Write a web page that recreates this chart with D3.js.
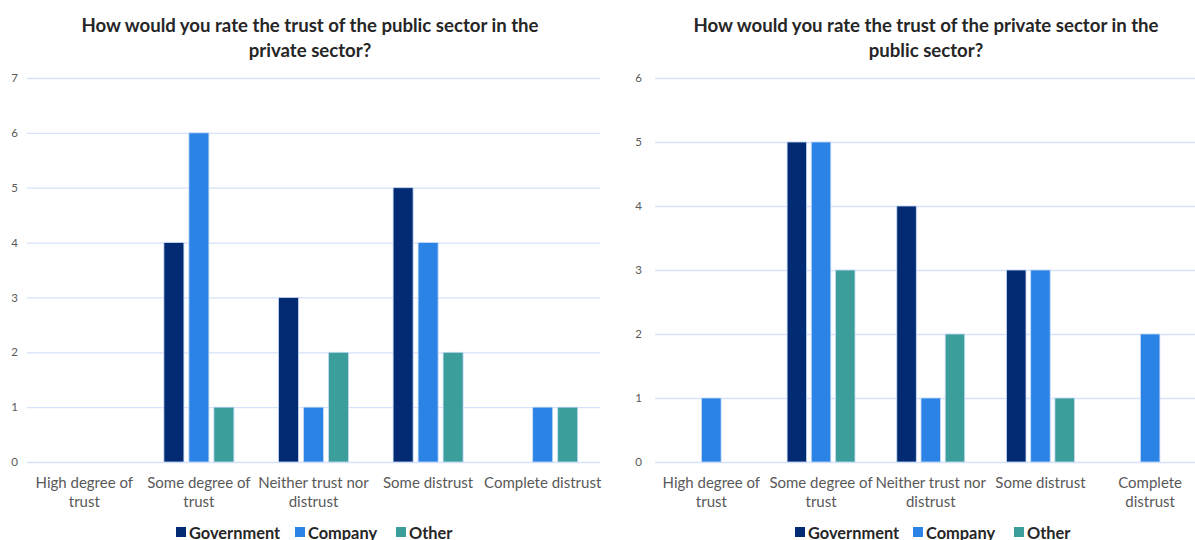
<!DOCTYPE html>
<html>
<head>
<meta charset="utf-8">
<script src="https://cdn.jsdelivr.net/npm/d3@7"></script>
<style>
  html, body { margin: 0; padding: 0; background: #fff; }
  svg { display: block; font-family: Lato, "Open Sans", sans-serif; }
</style>
</head>
<body>
<svg id="chart" width="1195" height="540"></svg>
<script>
// Response categories shared by both charts
const categories = [
  "High degree of trust",
  "Some degree of trust",
  "Neither trust nor distrust",
  "Some distrust",
  "Complete distrust"
];
const categoryLinesLeft = [
  ["High degree of", "trust"],
  ["Some degree of", "trust"],
  ["Neither trust nor", "distrust"],
  ["Some distrust"],
  ["Complete distrust"]
];
const categoryLinesRight = [
  ["High degree of", "trust"],
  ["Some degree of", "trust"],
  ["Neither trust nor", "distrust"],
  ["Some distrust"],
  ["Complete", "distrust"]
];
const seriesNames = ["Government", "Company", "Other"];
const seriesColors = ["#022b74", "#2b83e6", "#3c9e9b"];

// Trust of the public sector in the private sector
const publicGov     = [0, 4, 3, 5, 0];
const publicCompany = [0, 6, 1, 4, 1];
const publicOther   = [0, 1, 2, 2, 1];
const publicTicks   = [0, 1, 2, 3, 4, 5, 6, 7];

// Trust of the private sector in the public sector
const privateGov     = [0, 5, 4, 3, 0];
const privateCompany = [1, 5, 1, 3, 2];
const privateOther   = [0, 3, 2, 1, 0];
const privateTicks   = [0, 1, 2, 3, 4, 5, 6];

const svg = d3.select("#chart");

function drawPanel(opts) {
  const g = svg.append("g");
  const x = d3.scaleBand().domain(categories).range([opts.x0, opts.x1]);
  const inner = d3.scaleBand().domain(seriesNames)
    .range([-opts.step * 1.5, opts.step * 1.5]);
  const y = d3.scaleLinear().domain([0, opts.yMax]).range([462, 78]);

  // title
  const title = g.append("text")
    .attr("x", opts.titleX).attr("text-anchor", "middle")
    .attr("font-weight", 700).attr("font-size", 18.6).attr("fill", "#262626");
  opts.title.forEach((t, i) => {
    title.append("tspan").attr("x", opts.titleX).attr("y", 32 + i * 25).text(t);
  });

  // grid lines and y tick labels
  const yAxis = d3.axisLeft(y).tickValues(opts.ticks).tickFormat(d3.format("d"))
    .tickSize(-(opts.gridEnd - opts.gridStart)).tickPadding(opts.gridStart - opts.labelX - 4);
  const ya = g.append("g").attr("transform", `translate(${opts.gridStart},0)`).call(yAxis);
  ya.select(".domain").remove();
  ya.selectAll(".tick line").attr("stroke", "#d6e2fa").attr("stroke-width", 1.3);
  ya.selectAll(".tick text").attr("fill", "#595959").attr("font-size", 11.5)
    .attr("font-family", "Lato, sans-serif");

  // bars
  const series = [opts.gov, opts.company, opts.other];
  series.forEach((vals, si) => {
    g.append("g").selectAll("rect")
      .data(vals.map((v, i) => ({ v, c: categories[i] })).filter(d => d.v > 0))
      .join("rect")
      .attr("x", d => x(d.c) + x.bandwidth() / 2 + inner(seriesNames[si]) + (opts.step - opts.barW) / 2)
      .attr("width", opts.barW)
      .attr("y", d => y(d.v))
      .attr("height", d => y(0) - y(d.v))
      .attr("fill", seriesColors[si])
      .attr("stroke", "#c6dbf8").attr("stroke-width", 0.8);
  });

  // category labels
  const xa = g.append("g");
  opts.lines.forEach((lines, i) => {
    const cx = x(categories[i]) + x.bandwidth() / 2;
    const t = xa.append("text").attr("text-anchor", "middle")
      .attr("fill", "#595959").attr("font-size", 15);
    lines.forEach((l, j) => {
      t.append("tspan").attr("x", cx).attr("y", 488 + j * 19).text(l);
    });
  });

  // legend
  const lg = g.append("g");
  opts.legend.forEach((lx, i) => {
    lg.append("rect").attr("x", lx).attr("y", 527).attr("width", 10).attr("height", 10)
      .attr("fill", seriesColors[i]);
    lg.append("text").attr("x", lx + 13).attr("y", 538.5)
      .attr("font-size", 16.4).attr("font-weight", 700).attr("fill", "#262626")
      .text(seriesNames[i]);
  });
}

drawPanel({
  x0: 27, x1: 600, step: 25, barW: 20, yMax: 7, ticks: publicTicks,
  gridStart: 27, gridEnd: 600, labelX: 14,
  titleX: 310,
  title: ["How would you rate the trust of the public sector in the", "private sector?"],
  gov: publicGov, company: publicCompany, other: publicOther,
  lines: categoryLinesLeft,
  legend: [176, 295, 396]
});

drawPanel({
  x0: 656.5, x1: 1205, step: 24.2, barW: 19.5, yMax: 6, ticks: privateTicks,
  gridStart: 655, gridEnd: 1195, labelX: 638,
  titleX: 926,
  title: ["How would you rate the trust of the private sector in the", "public sector?"],
  gov: privateGov, company: privateCompany, other: privateOther,
  lines: categoryLinesRight,
  legend: [795, 913, 1014]
});
</script>
</body>
</html>
